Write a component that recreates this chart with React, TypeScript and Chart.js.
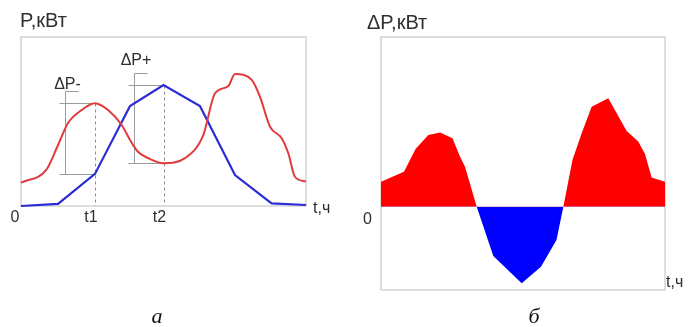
import React, { useEffect, useRef } from "react";
import { Chart, registerables } from "chart.js";

Chart.register(...registerables);

// ---- Panel "а": load curves P(t), hours 0..24, P in % of scale ----
const hoursRed = [0, 2.16, 3.12, 3.96, 5.11, 6.23, 7.33, 8.48, 9.18, 9.85, 10.69, 12.0, 13.81, 15.35, 16.34, 17.46, 18.02, 19.43, 20.12, 20.97, 21.95, 22.51, 23.07, 24];
const loadRed = [13.8, 21.7, 36.1, 49.1, 56.8, 60.8, 56.8, 47.9, 39.1, 32.1, 28.4, 25.3, 28.3, 42.0, 66.7, 71.0, 78.1, 74.6, 64.7, 46.9, 40.1, 31.2, 17.3, 14.4];
const hoursBlue = [0, 3.12, 6.23, 9.18, 12.0, 15.07, 18.02, 21.1, 24];
const loadBlue = [0, 1.2, 19.0, 59.2, 71.6, 59.2, 18.3, 1.6, 0.6];
const markTimes = [6.23, 12.0];
const markLabels = ["t1", "t2"];
const deltaLabels = ["ΔP-", "ΔP+"];

// ---- Panel "б": difference ΔP(t) ----
const hoursDelta = [0, 1.94, 2.92, 4.0, 4.99, 6.04, 6.68, 7.1, 8.09, 9.49, 11.89, 13.52, 14.83, 15.41, 16.18, 16.96, 17.8, 19.21, 20.76, 21.74, 22.31, 22.87, 24];
const deltaP = [14.8, 20.7, 34.1, 42.4, 43.9, 40.5, 29.6, 23.7, 0, -29.2, -45.3, -35.5, -19.7, 0, 27.6, 43.4, 59.2, 64.1, 44.8, 38.5, 31.2, 17.3, 14.8];

const toPoints = (xs: number[], ys: number[]) => xs.map((x, i) => ({ x, y: ys[i] }));
const interp = (xs: number[], ys: number[], t: number) => {
  for (let i = 0; i < xs.length - 1; i++) {
    if (t >= xs[i] && t <= xs[i + 1]) {
      const f = (t - xs[i]) / (xs[i + 1] - xs[i]);
      return ys[i] + f * (ys[i + 1] - ys[i]);
    }
  }
  return ys[ys.length - 1];
};

const TEXT = "#2e2e2e";
const FONT = "16px 'Liberation Sans', Arial, sans-serif";
const TITLE_FONT = "20px 'Liberation Sans', Arial, sans-serif";
const CAPTION_FONT = "italic 22px 'Liberation Serif', 'Times New Roman', serif";
const FRAME = "#d4d4d4";

const leftDecor = {
  id: "leftDecor",
  beforeDatasetsDraw(chart: any) {
    const { ctx, chartArea: a, scales } = chart;
    const x = scales.x, y = scales.y;
    ctx.save();
    ctx.strokeStyle = FRAME;
    ctx.lineWidth = 1.5;
    ctx.strokeRect(a.left, a.top, a.right - a.left, a.bottom - a.top);
    markTimes.forEach((t) => {
      const px = Math.round(x.getPixelForValue(t)) + 0.5;
      const r = interp(hoursRed, loadRed, t);
      const b = interp(hoursBlue, loadBlue, t);
      const hi = Math.round(y.getPixelForValue(Math.max(r, b))) + 0.5;
      const lo = Math.round(y.getPixelForValue(Math.min(r, b))) + 0.5;
      ctx.strokeStyle = "#8c8c8c";
      ctx.lineWidth = 1;
      ctx.setLineDash([3, 3]);
      ctx.beginPath();
      ctx.moveTo(px, hi);
      ctx.lineTo(px, a.bottom);
      ctx.stroke();
      ctx.setLineDash([]);
      ctx.strokeStyle = "#9c9c9c";
      const vx = px - 30;
      ctx.beginPath();
      ctx.moveTo(px - 36, hi);
      ctx.lineTo(px, hi);
      ctx.moveTo(px - 36, lo);
      ctx.lineTo(px, lo);
      ctx.moveTo(vx, lo);
      ctx.lineTo(vx, hi - 12);
      ctx.lineTo(vx + 13, hi - 12);
      ctx.stroke();
    });
    ctx.restore();
  },
  afterDatasetsDraw(chart: any) {
    const { ctx, chartArea: a, scales } = chart;
    const x = scales.x, y = scales.y;
    ctx.save();
    ctx.fillStyle = TEXT;
    ctx.font = FONT;
    ctx.textAlign = "center";
    ctx.textBaseline = "middle";
    markTimes.forEach((t, i) => {
      const px = x.getPixelForValue(t);
      ctx.fillText(markLabels[i], px - 4, a.bottom + 12);
      const r = interp(hoursRed, loadRed, t);
      const b = interp(hoursBlue, loadBlue, t);
      const hi = y.getPixelForValue(Math.max(r, b));
      const lift = i === 0 ? 7 : 12;
      ctx.fillText(deltaLabels[i], px - 27.5, hi - 12 - lift);
    });
    ctx.fillText("0", a.left - 6, a.bottom + 12);
    ctx.textAlign = "left";
    ctx.textBaseline = "alphabetic";
    ctx.fillText("t,ч", a.right + 7, a.bottom + 7);
    ctx.font = TITLE_FONT;
    ctx.textBaseline = "middle";
    ctx.fillText("P,кВт", a.left - 1, a.top - 16);
    ctx.fillStyle = "#111";
    ctx.font = CAPTION_FONT;
    ctx.textAlign = "center";
    ctx.textBaseline = "alphabetic";
    ctx.fillText("а", a.left + 136, a.bottom + 117);
    ctx.restore();
  },
};

const rightDecor = {
  id: "rightDecor",
  beforeDatasetsDraw(chart: any) {
    const { ctx, chartArea: a } = chart;
    ctx.save();
    ctx.strokeStyle = FRAME;
    ctx.lineWidth = 1.5;
    ctx.strokeRect(a.left, a.top, a.right - a.left, a.bottom - a.top);
    ctx.restore();
  },
  afterDatasetsDraw(chart: any) {
    const { ctx, chartArea: a, scales } = chart;
    const y0 = scales.y.getPixelForValue(0);
    ctx.save();
    ctx.fillStyle = TEXT;
    ctx.font = FONT;
    ctx.textAlign = "center";
    ctx.textBaseline = "middle";
    ctx.fillText("0", a.left - 13.5, y0 + 13);
    ctx.textAlign = "left";
    ctx.textBaseline = "alphabetic";
    ctx.fillText("t,ч", a.right + 1, a.bottom - 3);
    ctx.font = TITLE_FONT;
    ctx.textBaseline = "middle";
    ctx.fillText("ΔP,кВт", a.left - 14, a.top - 14);
    ctx.fillStyle = "#111";
    ctx.font = CAPTION_FONT;
    ctx.textAlign = "center";
    ctx.textBaseline = "alphabetic";
    ctx.fillText("б", a.left + 153, a.bottom + 33);
    ctx.restore();
  },
};

const hiddenScales = (ymin: number, ymax: number) => ({
  x: { type: "linear" as const, min: 0, max: 24, display: false },
  y: { type: "linear" as const, min: ymin, max: ymax, display: false },
});

export default function App() {
  const leftRef = useRef<HTMLCanvasElement>(null);
  const rightRef = useRef<HTMLCanvasElement>(null);

  useEffect(() => {
    const left = new Chart(leftRef.current as HTMLCanvasElement, {
      type: "line",
      data: {
        datasets: [
          {
            data: toPoints(hoursRed, loadRed),
            borderColor: "#e23a3a",
            borderWidth: 2,
            pointRadius: 0,
            cubicInterpolationMode: "monotone",
            fill: false,
          },
          {
            data: toPoints(hoursBlue, loadBlue),
            borderColor: "#2b2bd8",
            borderWidth: 2.2,
            pointRadius: 0,
            tension: 0,
            fill: false,
          },
        ],
      },
      options: {
        responsive: false,
        animation: false,
        devicePixelRatio: 1,
        layout: { padding: { left: 21, top: 37, right: 34, bottom: 121 } },
        scales: hiddenScales(0, 100),
        plugins: { legend: { display: false }, tooltip: { enabled: false } },
        clip: false,
      } as any,
      plugins: [leftDecor],
    });

    const right = new Chart(rightRef.current as HTMLCanvasElement, {
      type: "line",
      data: {
        datasets: [
          {
            data: toPoints(hoursDelta, deltaP),
            borderColor: "rgba(0,0,0,0)",
            borderWidth: 0,
            pointRadius: 0,
            tension: 0,
            fill: { target: "origin", above: "#ff0000", below: "#0000ff" },
          },
        ],
      },
      options: {
        responsive: false,
        animation: false,
        devicePixelRatio: 1,
        layout: { padding: { left: 41, top: 37, right: 23, bottom: 37 } },
        scales: hiddenScales(-49.3, 100.4),
        plugins: { legend: { display: false }, tooltip: { enabled: false }, filler: { propagate: false } },
      } as any,
      plugins: [rightDecor],
    });

    return () => {
      left.destroy();
      right.destroy();
    };
  }, []);

  return (
    <div style={{ position: "fixed", left: 0, top: 0, width: 688, height: 327, background: "#fff", overflow: "hidden" }}>
      <canvas ref={leftRef} width={340} height={327} style={{ position: "absolute", left: 0, top: 0, width: 340, height: 327 }} />
      <canvas ref={rightRef} width={348} height={327} style={{ position: "absolute", left: 340, top: 0, width: 348, height: 327 }} />
    </div>
  );
}
